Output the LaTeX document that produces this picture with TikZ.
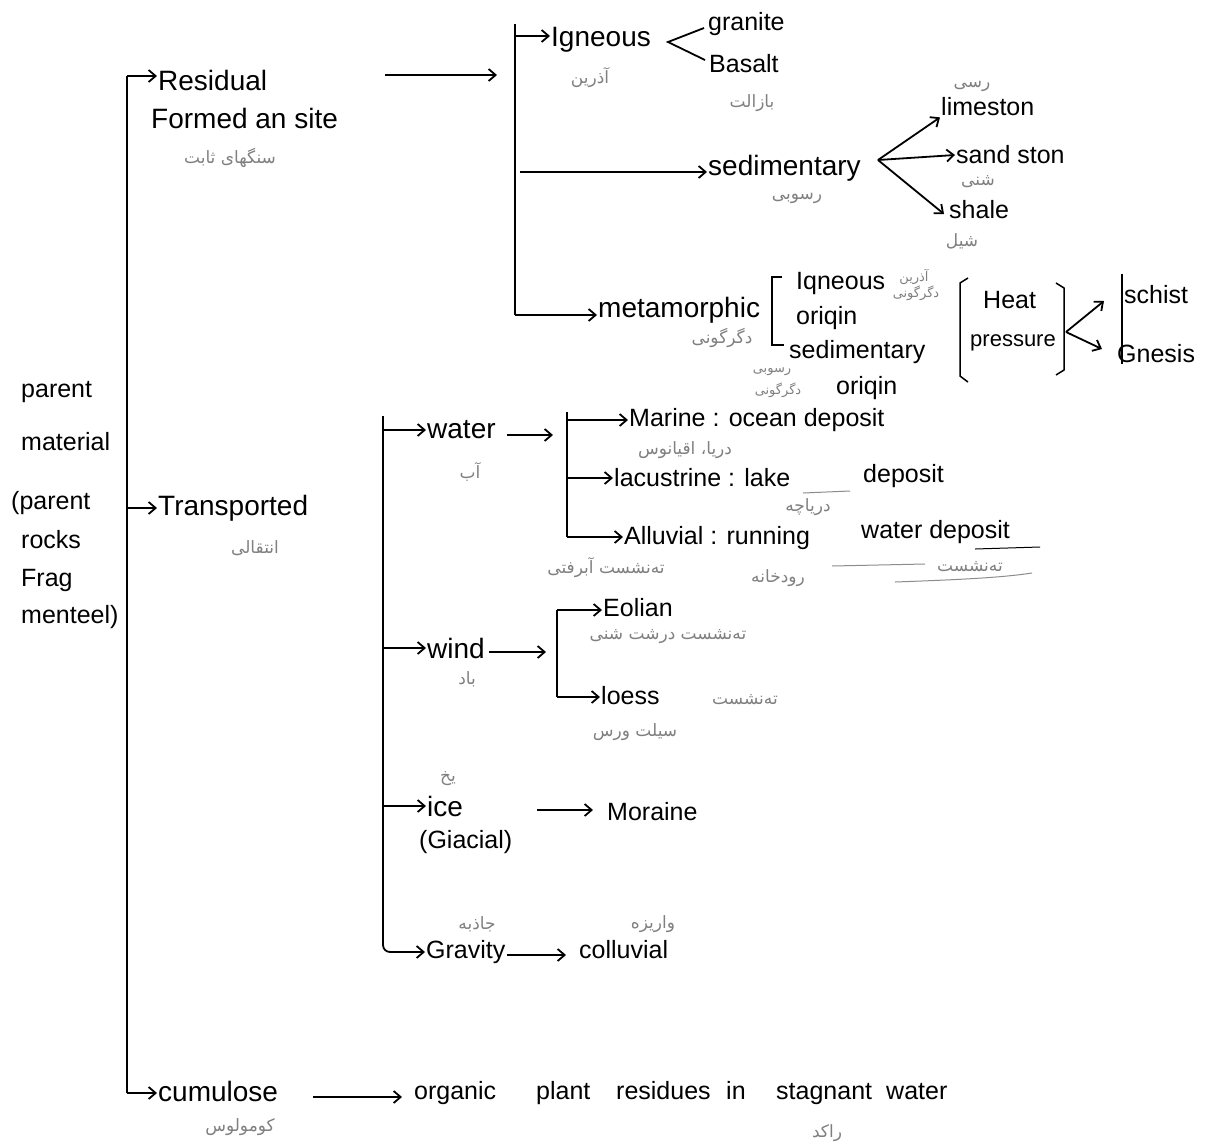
\documentclass[tikz,border=0pt]{standalone}
\usepackage{fontspec}
\setmainfont{Liberation Sans}
\newfontfamily\fafont[Script=Arabic]{DejaVu Sans}
\TeXXeTstate=1
\usetikzlibrary{arrows.meta}
\tikzset{
  t/.style={font=\fontsize{28}{30}\selectfont, inner sep=1pt, anchor=west},
  ts/.style={font=\fontsize{25}{27}\selectfont, inner sep=1pt, anchor=west},
  fa/.style={font={\fafont\fontsize{17}{19}\selectfont}, text=black!50, inner sep=1pt},
  fas/.style={font={\fafont\fontsize{13}{14}\selectfont}, text=black!50, inner sep=1pt},
  ln/.style={line width=1.8pt, black},
  ar/.style={ln, -{Straight Barb[length=7pt,width=12pt]}},
  pencil/.style={line width=1pt, black!45},
}
\begin{document}
\begin{tikzpicture}[x=1pt,y=-1pt]
\useasboundingbox[fill=white] (0,0) rectangle (1208,1144);

% ---------- left label
\node[ts] (lp1) at (20,392) {parent};
\node[ts] (lp2) at (20,442) {material};
\node[ts] (lp3) at (10,503) {(parent};
\node[ts] (lp4) at (20,540) {rocks};
\node[ts] (lp5) at (20,580) {Frag};
\node[ts] (lp6) at (20,617) {menteel)};

% ---------- main trunk
\node[t] (res) at (157,80) {Residual};
\node[t] (form) at (150,118) {Formed an site};
\node[fa] (faRes) at (230,158) {\beginR سنگهای ثابت\endR};
\node[t] (trans) at (157,508) {Transported};
\node[fa] (faTrans) at (255,548) {\beginR انتقالی\endR};
\node[t] (cum) at (157,1091) {cumulose};
\node[fa] (faCum) at (240,1127) {\beginR کومولوس\endR};

\coordinate (mTop) at (127,76);
\coordinate (mBot) at (127,1093);
\draw[ln] (mTop) -- (mBot);
\draw[ar] (mTop) -- (mTop -| res.west);
\draw[ar] (mTop |- trans.west) -- (trans.west);
\draw[ar] (mBot) -- (mBot -| cum.west);

% ---------- residual branch
\coordinate (rA) at (385,75);
\coordinate (rB) at (497,75);
\draw[ar] (rA) -- (rB);

\coordinate (bTop) at (515,24);
\coordinate (bBot) at (515,315);
\draw[ln] (bTop) -- (bBot);

\node[t] (ign) at (550,40) {Igneous};
\node[fa] (faIgn) at (590,78) {\beginR آذرین\endR};
\draw[ar] (515,36) -- (515,36 -| ign.west);
\coordinate (ifk) at (668,42);
\node[ts] (gran) at (707,24) {granite};
\node[ts] (bas) at (708,64) {Basalt};
\node[fa] (faBas) at (752,103) {\beginR بازالت\endR};
\path (gran.west) ++(-3,4) coordinate (g1);
\path (bas.west) ++(-3,-4) coordinate (b1);
\draw[ln] (g1) -- (ifk) -- (b1);

\node[t] (sed) at (707,168) {sedimentary};
\node[fa] (faSed) at (797,198) {\beginR رسوبی\endR};
\coordinate (sA) at (520,172);
\draw[ar] (sA) -- (sA -| sed.west);
\coordinate (sfk) at (878,160);
\node[ts] (lime) at (940,107) {limeston};
\node[fa] (faLime) at (972,86) {\beginR رسی\endR};
\node[ts] (sand) at (955,155) {sand ston};
\node[fa] (faSand) at (978,182) {\beginR شنی\endR};
\node[ts] (shale) at (948,210) {shale};
\node[fa] (faShale) at (962,241) {\beginR شیل\endR};
\draw[ar] (sfk) -- (lime.south west);
\draw[ar] (sfk) -- (sand.west);
\draw[ar] (sfk) -- ([xshift=-4pt,yshift=-4pt]shale.west);

\node[t] (meta) at (597,310) {metamorphic};
\node[fa] (faMeta) at (722,338) {\beginR دگرگونی\endR};
\draw[ar] (bBot) -- (bBot -| meta.west);

% metamorphic bracket
\draw[ln, line width=1.5pt] (782,277) -- (772,277) -- (772,345) -- (784,345);
\node[ts] (mIgn) at (795,283) {Iqneous};
\node[ts] (mOr1) at (795,318) {oriqin};
\node[ts] (mSed) at (788,352) {sedimentary};
\node[ts] (mOr2) at (835,388) {oriqin};
\node[fas] (faMI1) at (914,277) {\beginR آذرین\endR};
\node[fas] (faMI2) at (916,293) {\beginR دگرگونی\endR};
\node[fas] (faMS1) at (772,372) {\beginR رسوبی\endR};
\node[fas] (faMS2) at (778,390) {\beginR دگرگونی\endR};

% heat / pressure bracket
\draw[ln, line width=1.5pt] (968,278) -- (960,283) -- (960,376) -- (968,382);
\draw[ln, line width=1.5pt] (1056,283) -- (1064,288) -- (1064,370) -- (1056,375);
\node[ts] (heat) at (982,300) {Heat};
\node[ts, font=\fontsize{22}{24}\selectfont] (pres) at (969,343) {pressure};
\coordinate (hfk) at (1066,332);
\coordinate (hUp) at (1104,301);
\coordinate (hDn) at (1102,349);
\draw[ar] (hfk) -- (hUp);
\draw[ar] (hfk) -- (hDn);
\draw[ln] (1122,274) -- (1122,364);
\node[ts] (schist) at (1123,295) {schist};
\node[ts] (gnes) at (1116,354) {Gnesis};

% ---------- transported branch
\coordinate (tTop) at (383,416);
\node[t] (wat) at (426,430) {water};
\node[fa] (faWat) at (470,472) {\beginR آب\endR};
\node[t] (wind) at (426,648) {wind};
\node[fa] (faWind) at (467,679) {\beginR باد\endR};
\node[t] (ice) at (426,806) {ice};
\node[fa] (faIce) at (448,779) {\beginR یخ\endR};
\node[ts] (glac) at (418,842) {(Giacial)};
\node[ts] (grav) at (425,952) {Gravity};
\node[fa] (faGrav) at (477,924) {\beginR جاذبه\endR};

\draw[ar, rounded corners=7pt] (tTop) |- (grav.west);
\draw[ar] (tTop |- wat.west) -- (wat.west);
\draw[ar] (tTop |- wind.west) -- (wind.west);
\draw[ar] (tTop |- ice.west) -- (ice.west);

% water sub-branch
\coordinate (wA) at (507,435);
\coordinate (wB) at (553,435);
\draw[ar] (wA) -- (wB);
\coordinate (wTop) at (567,412);
\coordinate (wBot) at (567,537);
\draw[ln] (wTop) -- (wBot);
\node[ts] (mar) at (628,420) {Marine : ocean deposit};
\node[fa] (faMar) at (685,450) {\beginR دریا، اقیانوس\endR};
\node[ts] (lac) at (613,478) {lacustrine : lake};
\node[ts] (lacd) at (862,476) {deposit};
\node[fa] (faLac) at (808,507) {\beginR دریاچه\endR};
\node[ts] (all) at (623,538) {Alluvial : running};
\node[ts] (allw) at (860,532) {water deposit};
\node[fa] (faAll1) at (606,568) {\beginR ته‌نشست آبرفتی\endR};
\node[fa] (faAll2) at (778,578) {\beginR رودخانه\endR};
\node[fa] (faAll3) at (970,567) {\beginR ته‌نشست\endR};
\draw[ar] (567,420) -- (567,420 -| mar.west);
\draw[ar] (567,478) -- (567,478 -| lac.west);
\draw[ar] (wBot) -- (wBot -| all.west);
\draw[line width=1pt] (975,549) -- (1040,547);
\draw[pencil] (803,493) -- (850,491);
\draw[pencil] (832,566) -- (925,564);
\draw[pencil] (895,582) .. controls (950,580) and (1000,578) .. (1032,573);

% wind sub-branch
\coordinate (dA) at (489,652);
\coordinate (dB) at (546,652);
\draw[ar] (dA) -- (dB);
\coordinate (dTop) at (557,610);
\coordinate (dBot) at (557,697);
\draw[ln] (dTop) -- (dBot);
\node[ts] (eol) at (602,608) {Eolian};
\node[fa] (faEol) at (668,637) {\beginR ته‌نشست درشت شنی\endR};
\node[ts] (loess) at (600,696) {loess};
\node[fa] (faLoe1) at (745,700) {\beginR ته‌نشست\endR};
\node[fa] (faLoe2) at (635,732) {\beginR سیلت ورس\endR};
\draw[ar] (dTop) -- (dTop -| eol.west);
\draw[ar] (dBot) -- (dBot -| loess.west);

% ice
\coordinate (iA) at (537,810);
\coordinate (iB) at (593,810);
\draw[ar] (iA) -- (iB);
\node[ts] (mor) at (606,812) {Moraine};

% gravity
\coordinate (gA) at (507,955);
\coordinate (gB) at (566,955);
\draw[ar] (gA) -- (gB);
\node[ts] (coll) at (578,950) {colluvial};
\node[fa] (faColl) at (653,924) {\beginR واریزه\endR};

% ---------- cumulose
\coordinate (cA) at (313,1097);
\coordinate (cB) at (402,1097);
\draw[ar] (cA) -- (cB);
\tikzset{wd/.style={ts, anchor=base west}}
\node[wd] (w1) at (413,1099) {organic};
\node[wd] (w2) at (535,1099) {plant};
\node[wd] (w3) at (615,1099) {residues};
\node[wd] (w4) at (725,1099) {in};
\node[wd] (w5) at (775,1099) {stagnant};
\node[wd] (w6) at (885,1099) {water};
\node[fa] (faStag) at (827,1133) {\beginR راکد\endR};

\end{tikzpicture}
\end{document}
